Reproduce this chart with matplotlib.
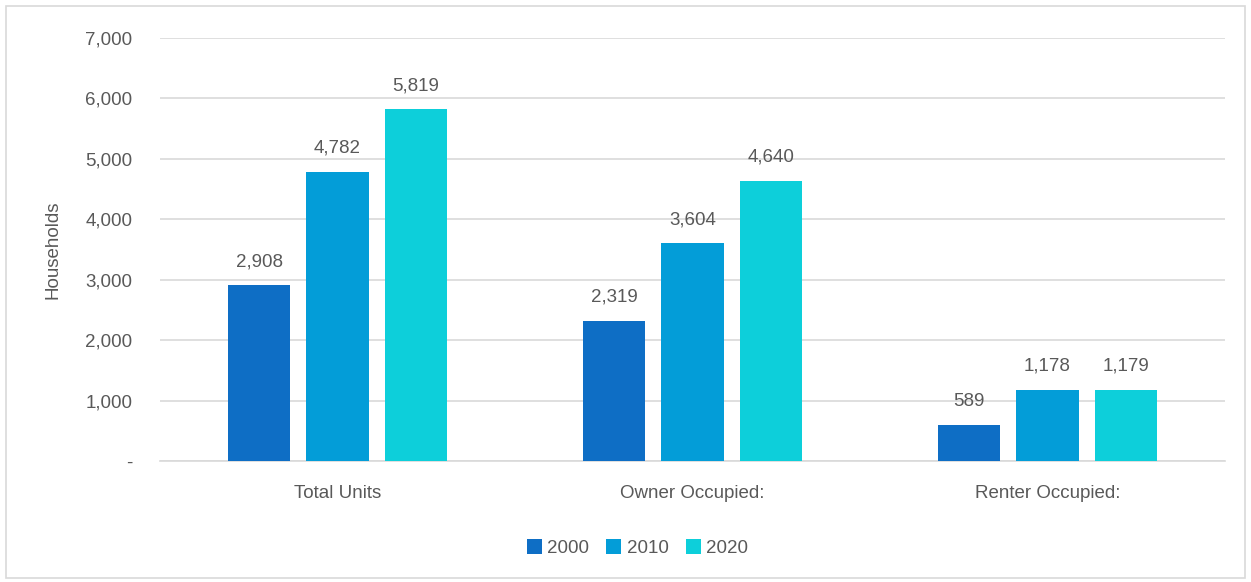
import numpy as np
import matplotlib.pyplot as plt
from matplotlib.patches import Rectangle

plt.rcParams['font.family'] = ['Liberation Sans Narrow', 'Liberation Sans', 'DejaVu Sans']

categories = ['Total Units', 'Owner Occupied:', 'Renter Occupied:']
years = ['2000', '2010', '2020']
values_2000 = [2908, 2319, 589]
values_2010 = [4782, 3604, 1178]
values_2020 = [5819, 4640, 1179]
colors = ['#0e6ec5', '#039dd8', '#0dcfda']
text_color = '#595959'

fig = plt.figure(figsize=(12.51, 5.82), dpi=100)
ax = fig.add_axes([160 / 1251, 1 - 461 / 582, 1065 / 1251, 423 / 582])

# outer chart border
fig.patches.append(Rectangle((6 / 1251, 4 / 582), 1239 / 1251, 572 / 582,
                             transform=fig.transFigure, fill=False,
                             edgecolor='#d9d9d9', linewidth=1.2))

x = np.arange(len(categories))
width = 0.175
offset = 0.221
series = [values_2000, values_2010, values_2020]
for i, vals in enumerate(series):
    pos = x + (i - 1) * offset
    bars = ax.bar(pos, vals, width, color=colors[i], label=years[i], zorder=3)
    for b, v in zip(bars, vals):
        ax.text(b.get_x() + b.get_width() / 2, v + 250, f'{v:,}',
                ha='center', va='bottom', fontsize=13.5, color=text_color)

ax.set_xlim(-0.5, 2.5)
ax.set_ylim(0, 7000)
ax.set_yticks(range(0, 7001, 1000))
ax.set_yticklabels(['-'] + [f'{t:,}' for t in range(1000, 7001, 1000)])
ax.set_xticks(x)
ax.set_xticklabels(categories)
ax.tick_params(axis='both', length=0, labelsize=13.5, colors=text_color)
ax.tick_params(axis='y', pad=20)
ax.tick_params(axis='x', pad=17)
ax.yaxis.grid(True, color='#d9d9d9', linewidth=1.2, zorder=0)
for s in ['top', 'right', 'left']:
    ax.spines[s].set_visible(False)
ax.spines['bottom'].set_color('#d9d9d9')
ax.spines['bottom'].set_linewidth(1.2)

ax.set_ylabel('Households', fontsize=13.5, color=text_color, labelpad=17)

ax.legend(loc='upper center', bbox_to_anchor=(0.5 - 55 / 1065, -0.145), ncol=3,
          frameon=False, fontsize=13.5, labelcolor=text_color,
          handlelength=0.8, handleheight=0.8, handletextpad=0.3, columnspacing=0.9)

fig.savefig('out.png', dpi=100)
